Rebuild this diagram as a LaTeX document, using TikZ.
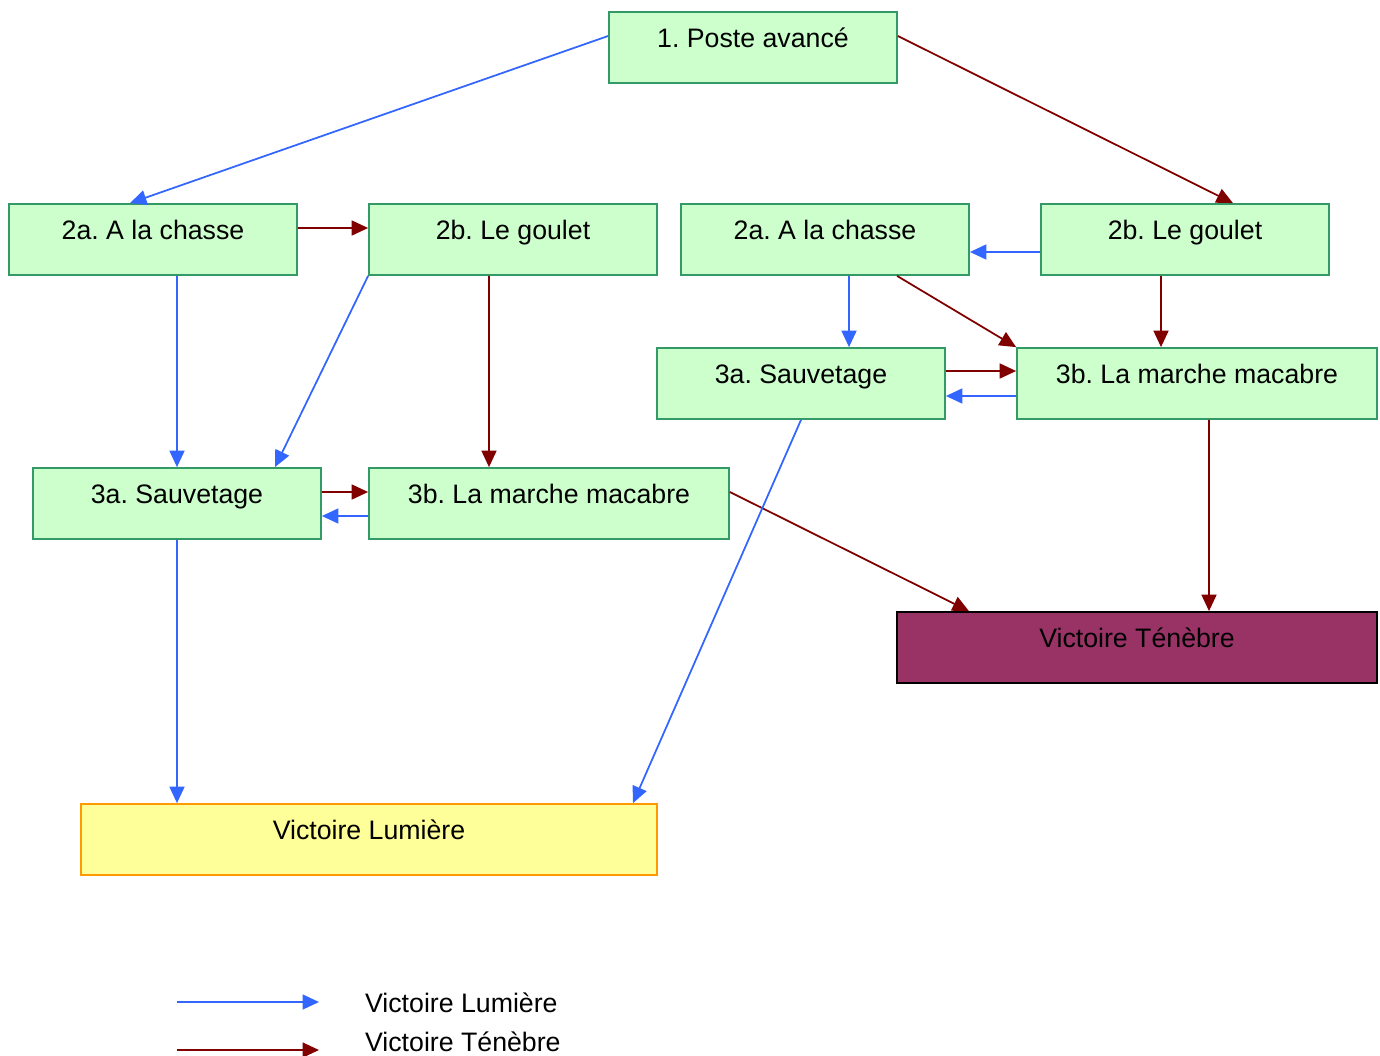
\documentclass[tikz,border=0pt]{standalone}
\usepackage{fontspec}
\setmainfont{Liberation Sans}
\usepackage{tikz}
\usetikzlibrary{arrows.meta}
\frenchspacing

\definecolor{lumiere}{HTML}{3366FF}
\definecolor{tenebre}{HTML}{800000}
\definecolor{boxfill}{HTML}{CCFFCC}
\definecolor{boxline}{HTML}{339966}
\definecolor{jaune}{HTML}{FFFF99}
\definecolor{orange}{HTML}{FF9900}
\definecolor{violet}{HTML}{993366}

\tikzset{
	etape/.style={draw=boxline, fill=boxfill, line width=1pt, minimum width=5.76cm, minimum height=1.42cm, text height=1.5ex, text depth=1.5ex, inner sep=0pt, font=\fontsize{15.2}{18}\selectfont},
	large/.style={minimum width=7.2cm},
	fleche/.style={line width=1pt, -{Triangle[length=0.33cm, width=0.3cm]}},
	bleu/.style={fleche, lumiere},
	rouge/.style={fleche, tenebre},
}

\begin{document}
\begin{tikzpicture}
	
	\useasboundingbox (0,0) rectangle (27.6,-21.1);
	
	\node[etape] (poste) at (15.06,-0.95) {1. Poste avancé};
	
	\node[etape] (ga) at (3.06,-4.79) {2a. A la chasse};
	\node[etape] (gb) at (10.26,-4.79) {2b. Le goulet};
	\node[etape] (la) at (3.54,-10.07) {3a. Sauvetage};
	\node[etape, large] (lb) at (10.98,-10.07) {3b. La marche macabre};
	
	\node[etape] (da) at (16.5,-4.79) {2a. A la chasse};
	\node[etape] (db) at (23.7,-4.79) {2b. Le goulet};
	\node[etape] (ra) at (16.02,-7.67) {3a. Sauvetage};
	\node[etape, large] (rb) at (23.94,-7.67) {3b. La marche macabre};
	
	\node[etape, draw=black, fill=violet, minimum width=9.6cm] (vt) at (22.74,-12.95) {Victoire Ténèbre};
	\node[etape, draw=orange, fill=jaune, minimum width=11.52cm] (vl) at (7.38,-16.79) {Victoire Lumière};
	
	% branche gauche
	\draw[bleu] ([yshift=0.23cm]poste.west) -- ([xshift=-0.46cm]ga.north);
	\draw[rouge] ([yshift=0.23cm]ga.east) -- ([yshift=0.23cm]gb.west);
	\draw[bleu] ([xshift=0.48cm]ga.south) -- (la.north);
	\draw[bleu] (gb.south west) -- ([xshift=1.96cm]la.north);
	\draw[rouge] ([xshift=-0.48cm]gb.south) -- ([xshift=-1.2cm]lb.north);
	\draw[rouge] ([yshift=0.23cm]la.east) -- ([yshift=0.23cm]lb.west);
	\draw[bleu] ([yshift=-0.25cm]lb.west) -- ([yshift=-0.25cm]la.east);
	\draw[bleu] (la.south) -- ([xshift=-3.84cm]vl.north);
	\draw[rouge] ([yshift=0.23cm]lb.east) -- ([xshift=-3.36cm]vt.north);
	
	% branche droite
	\draw[rouge] ([yshift=0.23cm]poste.east) -- ([xshift=0.96cm]db.north);
	\draw[bleu] ([yshift=-0.25cm]db.west) -- ([yshift=-0.25cm]da.east);
	\draw[bleu] ([xshift=0.48cm]da.south) -- ([xshift=0.96cm]ra.north);
	\draw[rouge] ([xshift=1.44cm]da.south) -- (rb.north west);
	\draw[rouge] ([xshift=-0.48cm]db.south) -- ([xshift=-0.72cm]rb.north);
	\draw[rouge] ([yshift=0.25cm]ra.east) -- ([yshift=0.25cm]rb.west);
	\draw[bleu] ([yshift=-0.25cm]rb.west) -- ([yshift=-0.25cm]ra.east);
	\draw[bleu] (ra.south) -- ([xshift=5.28cm]vl.north);
	\draw[rouge] ([xshift=0.24cm]rb.south) -- ([xshift=1.44cm]vt.north);
	
	% legende
	\coordinate (l1) at (3.54,-20.04);
	\coordinate (l2) at (3.54,-21);
	\node[anchor=west, inner sep=1pt, font=\fontsize{15.2}{18}\selectfont] (tl) at (7.26,-20.06) {Victoire Lumière};
	\node[anchor=west, inner sep=1pt, font=\fontsize{15.2}{18}\selectfont] (tt) at (7.26,-20.84) {Victoire Ténèbre};
	\draw[bleu] (l1) -- ([xshift=-0.88cm]l1 -| tl.west);
	\draw[rouge] (l2) -- ([xshift=-0.88cm]l2 -| tt.west);
	
\end{tikzpicture}
\end{document}
